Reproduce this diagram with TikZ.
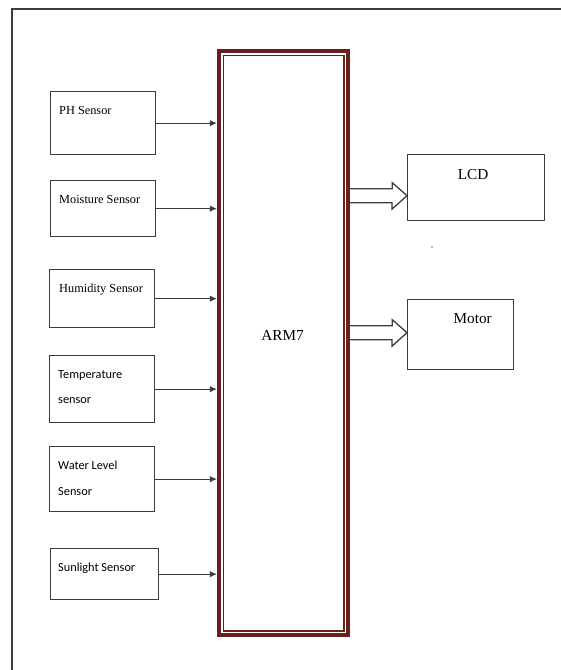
\documentclass[tikz,border=0pt]{standalone}
\usepackage{fontspec}
\setmainfont{Liberation Serif}
\newfontfamily\calibri{Carlito}
\usetikzlibrary{arrows.meta,calc}
\definecolor{wine}{HTML}{6E1D1D}
\definecolor{edge}{HTML}{3C3C3C}

\begin{document}
\begin{tikzpicture}[x=0.03cm,y=-0.03cm,>={Latex[length=6pt,width=5.5pt]},
 box/.style={draw=edge,line width=1.1pt,anchor=north west,inner sep=0pt,
   minimum width=3.15cm},
 tag/.style={anchor=north west,inner sep=0pt,align=left,
   font=\fontsize{10.5}{12}\selectfont},
 ctag/.style={anchor=north west,inner sep=0pt,align=left,
   font=\calibri\fontsize{10.5}{22}\selectfont},
 big/.style={anchor=north,inner sep=0pt,font=\fontsize{13}{15}\selectfont},
 fat/.style={draw=edge,line width=1.1pt,fill=white,line join=miter}]
    \useasboundingbox (0,0) rectangle (561,670);
    \clip (0,0) rectangle (561,670);
    % page frame
    \draw[edge,line width=1.6pt] (12,690) -- (12,9) -- (580,9);

    % controller
    \node[draw=wine,line width=3.6pt,anchor=north west,inner sep=0pt,
          minimum width=3.87cm,minimum height=17.52cm] (arm) at (217,49) {};
    \draw[wine,line width=1.4pt] ([shift={(6.5,6.5)}]arm.north west)
        rectangle ([shift={(-6.5,-6.5)}]arm.south east);
    \node[inner sep=0pt,font=\fontsize{13}{15}\selectfont] (armtxt)
        at ($(arm.center)+(-1,-8)$) {ARM7};

    % sensors
    \node[box,minimum height=1.89cm] (ph) at (50,91) {};
    \node[box,minimum height=1.68cm] (moist) at (50,180) {};
    \node[box,minimum height=1.74cm] (humid) at (49,269) {};
    \node[box,minimum height=2.01cm] (temp) at (49,355) {};
    \node[box,minimum height=1.95cm] (water) at (49,446) {};
    \node[box,minimum height=1.53cm,minimum width=3.24cm] (sun) at (50,548) {};

    \node[tag] (phtxt) at ($(ph.north west)+(9,15)$) {PH Sensor};
    \node[tag] (moisttxt) at ($(moist.north west)+(9,15)$) {Moisture Sensor};
    \node[tag] (humidtxt) at ($(humid.north west)+(10,15)$) {Humidity Sensor};
    \node[ctag] (temptxt) at ($(temp.north west)+(9,15)$) {Temperature\\sensor};
    \node[ctag] (watertxt) at ($(water.north west)+(9,15)$) {Water Level\\Sensor};
    \node[ctag] (suntxt) at ($(sun.north west)+(8,15)$) {Sunlight Sensor};

    \foreach \s in {ph,moist,humid,temp,water,sun}
        \draw[->,edge,line width=1.1pt] (\s.east) -- (\s.east -| arm.west);

    % outputs
    \node[box,minimum width=4.11cm,minimum height=1.98cm] (lcd) at (407,154) {};
    \node[box,minimum width=3.18cm,minimum height=2.1cm] (motor) at (407,299) {};
    \node[big] (lcdtxt) at ($(lcd.north)+(-3,15)$) {LCD};
    \node[big] (motortxt) at ($(motor.north)+(12,14)$) {Motor};

    \coordinate (lcdin) at ($(lcd.west)+(0,8)$);
    \coordinate (motorin) at ($(motor.west)+(0,-2)$);
    \draw[fat] ($(arm.east |- lcdin)+(0,-7)$) -- ++(42,0) -- ++(0,-6)
        -- (lcdin) -- ++(-15,13.5) -- ++(0,-6.5) -- ++(-42,0);
    \draw[fat] ($(arm.east |- motorin)+(0,-7)$) -- ++(42,0) -- ++(0,-6)
        -- (motorin) -- ++(-15,13.5) -- ++(0,-6.5) -- ++(-42,0);

    \fill[edge!70] (432,247) circle (0.8);
\end{tikzpicture}
\end{document}
